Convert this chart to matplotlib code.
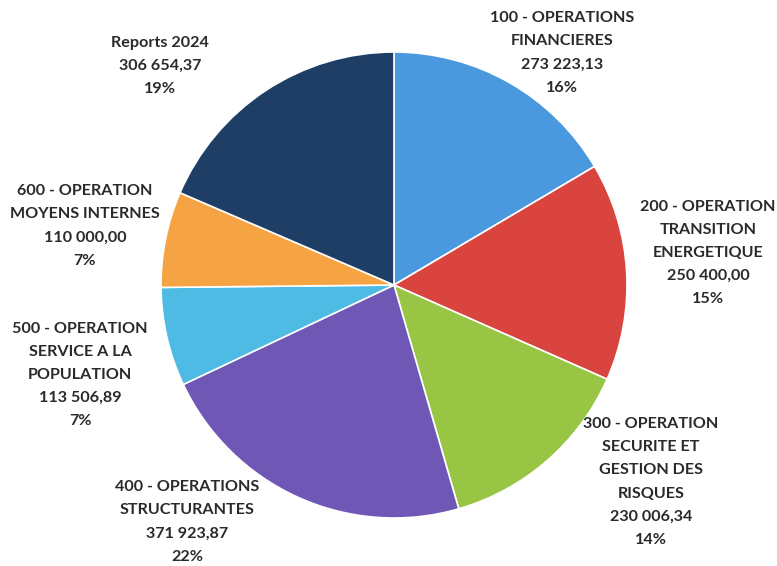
import matplotlib
matplotlib.use("Agg")
import matplotlib.pyplot as plt

categories = [
    "100 - OPERATIONS\nFINANCIERES",
    "200 - OPERATION\nTRANSITION\nENERGETIQUE",
    "300 - OPERATION\nSECURITE ET\nGESTION DES\nRISQUES",
    "400 - OPERATIONS\nSTRUCTURANTES",
    "500 - OPERATION\nSERVICE A LA\nPOPULATION",
    "600 - OPERATION\nMOYENS INTERNES",
    "Reports 2024",
]
values = [273223.13, 250400.00, 230006.34, 371923.87, 113506.89, 110000.00, 306654.37]
pct_labels = ["16%", "15%", "14%", "22%", "7%", "7%", "19%"]
colors = ["#4a98de", "#d9443e", "#98c543", "#6f58b5", "#4dbbe3", "#f6a343", "#1f3e66"]

# label block centres in pixel coords (x, y from top)
label_pos = [(562, 53), (708, 253), (651, 482), (187, 522), (80, 375), (85, 226), (160, 66)]

W, H = 777, 566
fig = plt.figure(figsize=(W / 100, H / 100), dpi=100)
cx, cy, r = 394, 285, 233
ax = fig.add_axes([(cx - r) / W, (H - cy - r) / H, 2 * r / W, 2 * r / H])
ax.pie(values, colors=colors, startangle=90, counterclock=False, radius=1,
       wedgeprops=dict(edgecolor="white", linewidth=1.2))
ax.set_xlim(-1, 1)
ax.set_ylim(-1, 1)
ax.set_aspect("equal")
ax.axis("off")

def fmt(v):
    s = f"{v:,.2f}"
    return s.replace(",", " ").replace(".", ",")

for cat, v, p, (x, y) in zip(categories, values, pct_labels, label_pos):
    fig.text(x / W, 1 - y / H, f"{cat}\n{fmt(v)}\n{p}", ha="center", va="center",
             fontsize=11.6, fontweight="bold", family=["Lato", "DejaVu Sans"],
             color="#2a2a2a", linespacing=1.82)

fig.savefig("out.png", dpi=100)
